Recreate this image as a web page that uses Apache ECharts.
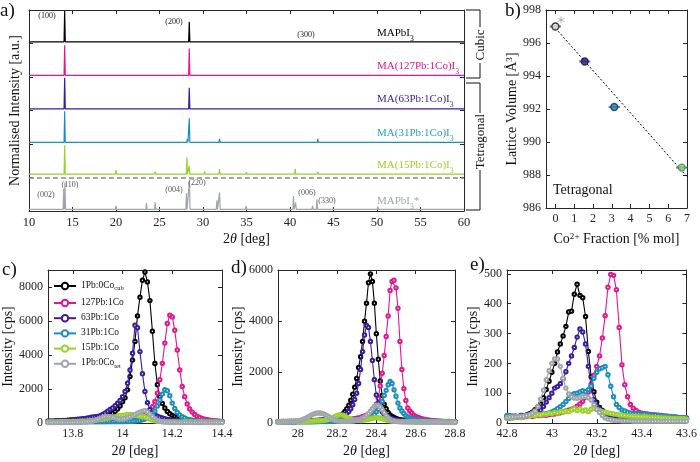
<!DOCTYPE html>
<html><head><meta charset="utf-8">
<script src="https://cdn.jsdelivr.net/npm/echarts@6/dist/echarts.min.js"></script>
<style>html,body{margin:0;padding:0;background:#fff}#chart{width:700px;height:462px}</style>
</head><body><div id="chart"></div>
<script>
// ================= DATA =================
// Panel a: XRD peaks [2theta, normalised height]
const peaksCub   = [[14.1,0.92],[20.0,0.01],[24.5,0.008],[28.42,0.6],[31.9,0.01],[40.6,0.01],[43.2,0.04],[50.2,0.01],[58.7,0.01]];
const peaks127   = [[14.1,0.9],[28.42,0.8],[31.9,0.012],[40.6,0.01],[43.2,0.05],[50.2,0.01],[58.7,0.015]];
const peaks63    = [[14.1,0.93],[20.0,0.015],[28.42,0.63],[31.9,0.015],[40.6,0.015],[43.2,0.04],[50.2,0.01],[58.7,0.01]];
const peaks31    = [[14.1,0.93],[20.0,0.03],[24.5,0.02],[28.2,0.1],[28.42,0.72],[31.9,0.1],[35.0,0.02],[40.6,0.04],[43.2,0.1],[50.2,0.02],[58.7,0.02]];
const peaks15    = [[14.1,0.86],[20.0,0.12],[23.5,0.04],[24.5,0.08],[28.15,0.5],[28.42,0.25],[30.2,0.09],[31.6,0.05],[31.9,0.15],[35.0,0.06],[40.6,0.16],[43.2,0.07],[50.2,0.05],[52.0,0.03],[58.7,0.03]];
const peaksTet   = [[13.99,0.6],[14.13,0.8],[15.0,0.05],[20.0,0.1],[23.5,0.18],[24.5,0.21],[25.0,0.04],[28.1,0.48],[28.44,0.85],[30.0,0.04],[31.0,0.05],[31.6,0.27],[31.9,0.5],[34.95,0.1],[37.8,0.03],[40.4,0.4],[40.65,0.2],[42.6,0.1],[43.1,0.3],[45.0,0.03],[47.5,0.02],[50.1,0.08],[51.9,0.04],[52.4,0.03],[54.9,0.05],[57.5,0.02],[58.7,0.03]];
const xrdTicks = [10,15,20,25,30,35,40,45,50,55,60];

// Panel b: lattice volume vs Co fraction
const bX    = [0, 1.56, 3.13, 6.72];
const bY    = [997.0, 994.88, 992.12, 988.45];
const bXErr = [0.3, 0.3, 0.3, 0.3];
const bFitX = [0, 7];
const bFitY = [996.9, 987.9];
const bStar = [0.3, 997.4];

// Panels c-e: peak profiles (intensity, cps)
const legendNames = ['1Pb:0Co_cub','127Pb:1Co','63Pb:1Co','31Pb:1Co','15Pb:1Co','1Pb:0Co_tet'];
const cStart = 13.70, cStep = 0.01;   // 71 points
const c_cub = [100,105,110,115,120,125,130,140,150,160, 170,180,190,200,210,220,235,250,265,280, 295,310,340,380,430,490,570,680,820,1000, 1250,1480,1950,2730,3700,4800,6300,7400,8400,8880, 8300,7200,5400,3500,2250,1550,1150,880,680,540, 450,390,340,290,250,210,185,165,150,135, 120,110,105,100,95,92,90,88,85,82, 80];
const c_127 = [78,78,79,80,80,81,82,83,84,85, 86,87,88,89,90,92,94,96,98,100, 102,104,106,108,110,112,114,117,120,130, 140,150,165,180,195,230,270,320,390,480, 585,750,960,1270,1760,2540,3510,4700,5850,6340, 6240,5460,4290,3120,2150,1550,1120,830,640,500, 400,320,265,220,190,165,150,135,120,108, 98];
const c_63  = [100,105,110,120,125,135,145,155,165,180, 195,210,225,240,255,275,300,325,350,370, 390,430,500,585,700,800,880,1020,1170,1320, 1550,1850,2340,3120,4100,5750,5600,4200,2900,1850, 1200,780,600,490,400,340,293,250,215,190, 170,160,150,140,130,120,112,105,100,95, 90,85,82,80,78,76,75,74,73,72, 70];
const c_31  = [60,61,62,63,64,65,66,67,68,69, 70,71,72,72,73,73,74,74,75,75, 76,76,77,77,78,78,79,79,80,80, 80,82,85,90,100,115,130,150,190,230, 290,370,470,700,1000,1350,1700,1960,1900,1600, 1170,860,620,480,370,290,230,190,160,140, 125,115,108,100,95,92,90,88,86,84, 82];
const c_15  = [60,62,64,66,68,70,72,75,78,82, 86,90,95,100,105,110,120,135,150,170, 190,215,240,265,290,310,340,370,410,440, 450,470,500,510,490,450,425,400,380,350, 300,230,170,130,105,90,80,75,70,68, 66,65,64,63,62,61,60,60,59,59, 58,58,57,57,56,56,55,55,55,54, 54];
const c_tet = [30,30,31,31,32,32,33,34,35,36, 38,40,43,47,52,60,75,95,120,160, 210,270,330,370,390,380,340,290,250,230, 240,270,310,360,420,490,570,640,700,720, 650,520,380,260,170,110,80,60,50,45, 42,40,38,37,36,35,35,34,34,33, 33,32,32,32,31,31,31,30,30,30, 30];

const dStart = 27.90, dStep = 0.01;   // 91 points
const d_cub = [55,55,56,57,58,59,60,61,62,63, 65,67,70,73,76,80,84,88,92,96, 100,105,110,115,120,125,135,150,165,180, 200,235,290,360,457,560,700,890,1130,1400, 1750,2180,2600,3200,3990,4700,5500,5850,5550,4700, 3500,2500,1650,1080,740,560,410,320,260,220, 180,150,130,115,100,90,82,75,68,65, 62,60,60,59,59,58,58,57,57,56, 56,55,55,54,54,53,53,52,52,51, 50];
const d_127 = [45,46,47,48,49,50,51,52,53,54, 55,56,57,58,59,60,61,62,63,64, 65,66,67,68,70,72,75,78,82,86, 90,95,100,106,112,120,130,142,156,170, 185,200,220,245,275,310,350,410,480,580, 740,960,1450,1950,2650,3390,4200,5200,5550,5600, 5300,4500,3200,2100,1350,880,590,470,390,310, 261,225,195,170,150,130,118,106,96,88, 82,76,71,67,64,61,59,57,55,54, 53];
const d_63  = [50,51,52,53,54,55,56,57,58,60, 62,64,66,68,70,73,76,80,84,90, 96,103,110,120,128,136,145,155,168,182, 200,225,255,290,330,380,450,560,720,920, 1170,1550,2100,2800,3450,3830,3750,3200,2450,1700, 1100,780,580,430,340,275,230,195,165,140, 122,110,100,92,85,79,74,70,67,65, 63,62,61,60,59,58,57,56,55,55, 54,54,53,53,52,52,51,51,50,50, 50];
const d_31  = [40,40,41,41,42,42,43,43,44,44, 45,45,46,46,47,48,49,50,51,52, 53,54,55,57,59,61,63,66,69,72, 76,80,85,90,95,100,106,112,120,128, 137,147,158,170,185,200,222,245,270,330, 440,540,652,850,1080,1280,1500,1630,1550,1300, 1050,780,587,470,370,290,240,195,165,150, 135,120,108,98,90,84,78,73,69,66, 63,60,58,56,55,54,53,52,51,50, 50];
const d_15  = [40,42,44,46,48,50,52,54,56,58, 60,62,64,66,68,70,72,75,78,82, 86,90,96,104,115,130,150,180,215,255, 290,315,320,305,270,225,180,145,120,105, 98,95,98,105,115,130,150,170,190,205, 210,205,190,170,145,120,100,85,75,68, 62,58,55,52,50,48,46,45,44,43, 42,41,40,40,39,39,38,38,37,37, 36,36,35,35,35,34,34,34,33,33, 33];
const d_tet = [44,45,46,47,48,50,52,55,60,68, 80,95,115,145,180,225,270,315,350,375, 390,392,385,365,330,285,235,185,140,105, 85,75,70,67,65,64,66,70,78,90, 105,125,150,185,230,290,370,460,560,650, 700,690,620,520,400,290,200,140,100,78, 65,58,53,50,48,46,45,44,43,42, 42,41,41,40,40,40,39,39,39,38, 38,38,37,37,37,36,36,36,35,35, 35];

const eStart = 42.80, eStep = 0.0125; // 65 points
const e_cub = [22,24,21,23,22,25,24,27,31,36, 45,55,64,85,112,140,170,200,238,265, 292,324,372,375,432,465,428,420,357,240, 155,105,70,52,42,33,30,26,23,22, 21,22,20,21,19,20,19,20,19,18, 19,18,18,17,18,17,17,18,16,17, 17,16,16,15,15];
const e_127 = [18,19,18,20,19,21,20,22,23,22, 24,25,25,27,26,28,29,30,32,34, 37,40,43,46,50,56,64,73,86,104, 130,160,190,225,285,360,455,498,495,447, 320,195,128,88,62,50,42,36,33,31, 30,29,28,27,26,25,24,23,22,21, 20,19,18,17,17];
const e_63  = [18,17,20,19,21,22,24,25,27,29, 31,37,43,55,70,85,100,117,122,132, 148,172,200,225,253,288,315,305,265,190, 120,78,58,47,40,35,31,29,27,25, 24,23,22,22,21,21,20,20,20,19, 19,19,19,19,18,18,18,17,17,16, 16,16,15,15,15];
const e_31  = [25,22,24,23,21,24,23,25,24,27, 26,28,29,30,31,34,37,42,48,55, 62,72,82,94,98,100,104,108,105,112, 124,150,170,182,185,190,162,123,88,62, 52,44,40,36,34,32,31,30,29,30, 28,27,26,27,25,24,22,23,21,20, 20,19,18,18,17];
const e_15  = [15,18,16,19,20,18,22,24,22,26, 25,28,27,30,29,33,31,35,33,38, 36,40,38,44,48,42,47,40,44,38, 46,50,45,42,38,36,34,32,30,29, 27,26,25,24,23,22,22,21,21,20, 20,19,19,18,18,17,17,16,16,15, 15,14,14,14,13];
const e_tet = [18,20,20,21,22,22,23,25,28,33, 40,55,80,110,145,175,200,215,215,190, 150,117,97,88,84,83,85,88,89,85, 77,62,46,35,25,17,13,11,9,8, 8,7,7,7,7,6,6,6,6,6, 6,6,6,6,6,6,6,6,6,6, 6,6,6,6,6];

// ================= STYLE =================
const FONT = "'Liberation Serif', 'DejaVu Serif', serif";
const AX = '#262626';
const COLS = ['#000000', '#e6158f', '#3a1d9e', '#1c8dbb', '#9ad12b', '#9ea6aa'];
const bFill = ['#d9dcdc', '#2a1a8c', '#1d7fb3', '#93cf35'];
const bEdge = ['#111111', '#161040', '#123050', '#1c8dbb'];

const chart = echarts.init(document.getElementById('chart'), null, {renderer: 'canvas'});

function gridXY(start, step, vals) { return vals.map((v, i) => [+(start + step * i).toFixed(5), v]); }
const PW = 0.07;
function trace(peaks, off) {
  const pts = [[10, off]];
  peaks.forEach(([p, h]) => { pts.push([p - PW, off], [p, off + h], [p + PW, off]); });
  pts.push([60, off]);
  return pts;
}

function nameStyle(fs) {
  return { fontFamily: FONT, fontSize: fs, color: '#111',
    rich: { i: {fontFamily: FONT, fontSize: fs, fontStyle: 'italic', color: '#111'},
            sup: {fontFamily: FONT, fontSize: fs * 0.65, verticalAlign: 'top', lineHeight: 10, color: '#111'} } };
}
function axisPair(dim, g, min, max, ticks, o) {
  o = o || {};
  const mk = (pos, main) => ({
    type: 'value', gridIndex: g, min, max, position: pos,
    splitLine: {show: false},
    axisLine: {show: true, onZero: false, lineStyle: {color: AX, width: 1}},
    axisTick: {show: true, inside: true, length: 4, customValues: ticks, lineStyle: {color: AX, width: 1}},
    axisLabel: main && o.labels !== false
      ? {show: true, customValues: ticks, color: '#222', fontFamily: FONT, fontSize: o.fs || 12, margin: o.margin || 5,
         formatter: v => String(+v.toFixed(4))}
      : {show: false},
    name: main ? (o.name || '') : '',
    nameLocation: 'middle', nameGap: o.nameGap || 20,
    nameTextStyle: nameStyle(o.nfs || 14)
  });
  return dim === 'x' ? [mk('bottom', true), mk('top', false)] : [mk('left', true), mk('right', false)];
}

const grids = [
  {left: 23, top: 10, width: 441, height: 201},
  {left: 546, top: 10, width: 141, height: 198},
  {left: 48, top: 270, width: 174, height: 153},
  {left: 278, top: 270, width: 177, height: 153},
  {left: 507, top: 270, width: 183, height: 153}
];
const xAxes = [].concat(
  axisPair('x', 0, 10, 60, xrdTicks, {name: '2{i|θ} [deg]', nameGap: 21, fs: 12.5}),
  axisPair('x', 1, -0.5, 7, [0,1,2,3,4,5,6,7], {name: 'Co{sup|2+} Fraction [% mol]', nameGap: 24, fs: 12}),
  axisPair('x', 2, 13.7, 14.4, [13.8,14,14.2,14.4], {name: '2{i|θ} [deg]', nameGap: 21, fs: 12}),
  axisPair('x', 3, 27.9, 28.8, [28,28.2,28.4,28.6,28.8], {name: '2{i|θ} [deg]', nameGap: 21, fs: 12}),
  axisPair('x', 4, 42.8, 43.6, [42.8,43,43.2,43.4,43.6], {name: '2{i|θ} [deg]', nameGap: 21, fs: 12})
);
const yAxes = [].concat(
  axisPair('y', 0, 0, 6, [0,1,2,3,4,5,6], {labels: false, name: 'Normalised Intensity [a.u.]', nameGap: 7}),
  axisPair('y', 1, 986, 998, [986,988,990,992,994,996,998], {name: 'Lattice Volume [Å{sup|3}]', nameGap: 26, fs: 12}),
  axisPair('y', 2, 0, 9000, [0,2000,4000,6000,8000], {name: 'Intensity [cps]', nameGap: 31, fs: 12}),
  axisPair('y', 3, 0, 6000, [0,2000,4000,6000], {name: 'Intensity [cps]', nameGap: 29, fs: 12}),
  axisPair('y', 4, 0, 513, [0,100,200,300,400,500], {name: 'Intensity [cps]', nameGap: 23, fs: 12})
);

const series = [];
// Panel a
const xrdSets = [peaksCub, peaks127, peaks63, peaks31, peaks15, peaksTet];
const xrdOffsets = [5.05, 4.05, 3.05, 2.05, 1.1, 0.05];
xrdSets.forEach((pk, k) => {
  const s = {type: 'line', name: 'xrd' + k, xAxisIndex: 0, yAxisIndex: 0, data: trace(pk, xrdOffsets[k]),
    showSymbol: false, symbol: 'none', lineStyle: {color: COLS[k], width: 1.2}, itemStyle: {color: COLS[k]}, z: 2};
  if (k === 5) {
    s.markLine = {silent: true, symbol: 'none', label: {show: false},
      lineStyle: {color: '#8a8a8a', type: [5, 3], width: 1.5}, data: [{yAxis: 1.0}]};
  }
  series.push(s);
});
// Panel b
series.push({type: 'line', name: 'fit', xAxisIndex: 2, yAxisIndex: 2,
  data: bFitX.map((x, i) => [x, bFitY[i]]), symbol: 'none', lineStyle: {color: '#000', width: 1, type: [2, 2]}, z: 1});
series.push({type: 'custom', name: 'err', xAxisIndex: 2, yAxisIndex: 2,
  data: bX.map((x, i) => [x, bY[i], bXErr[i]]), encode: {x: 0, y: 1},
  renderItem: (params, api) => {
    const x = api.value(0), y = api.value(1), e = api.value(2);
    const p1 = api.coord([x - e, y]), p2 = api.coord([x + e, y]);
    return {type: 'line', shape: {x1: p1[0], y1: p1[1], x2: p2[0], y2: p2[1]}, style: {stroke: '#7d7d7d', lineWidth: 2}};
  }, z: 2});
series.push({type: 'scatter', name: 'vol', xAxisIndex: 2, yAxisIndex: 2, symbolSize: 7,
  data: bX.map((x, i) => ({value: [x, bY[i]], itemStyle: {color: bFill[i], borderColor: bEdge[i], borderWidth: 1.3}})), z: 3});
series.push({type: 'scatter', name: 'star', xAxisIndex: 2, yAxisIndex: 2, symbolSize: 7,
  symbol: 'path://M0,-5L0,5M-4.33,-2.5L4.33,2.5M-4.33,2.5L4.33,-2.5',
  data: [bStar], itemStyle: {color: 'none', borderColor: '#9ea6aa', borderWidth: 1}, z: 3});
// Panels c-e
const cSets = [c_cub, c_127, c_63, c_31, c_15, c_tet];
const dSets = [d_cub, d_127, d_63, d_31, d_15, d_tet];
const eSets = [e_cub, e_127, e_63, e_31, e_15, e_tet];
[[cSets, cStart, cStep, 4], [dSets, dStart, dStep, 6], [eSets, eStart, eStep, 8]].forEach(([sets, st, sp, ax]) => {
  sets.forEach((vals, k) => {
    series.push({type: 'line', name: legendNames[k], xAxisIndex: ax, yAxisIndex: ax,
      data: gridXY(st, sp, vals), symbol: 'emptyCircle', symbolSize: 3.4, showAllSymbol: true,
      lineStyle: {color: COLS[k], width: 1.1}, itemStyle: {color: COLS[k], borderColor: COLS[k], borderWidth: 0.9},
      z: 2 + k});
  });
});

// ================= ANNOTATIONS =================
const g = [];
function T(x, y, text, o) {
  o = o || {};
  const el = {type: 'text', x, y, rotation: o.rot || 0, z: 10,
    style: {text, fill: o.color || '#111', font: `${o.style || ''} ${o.fs || 12}px ${FONT}`,
      textAlign: o.align || 'left', textVerticalAlign: o.va || 'middle', rich: o.rich}};
  g.push(el);
}
function L(x1, y1, x2, y2) {
  g.push({type: 'line', z: 10, shape: {x1, y1, x2, y2}, style: {stroke: '#111', lineWidth: 1}});
}
const subRich = (fs, col) => ({
  b: {fontFamily: FONT, fontSize: fs, fill: col, color: col, lineHeight: fs + 4, verticalAlign: 'top'},
  s: {fontFamily: FONT, fontSize: fs * 0.7, fill: col, color: col, verticalAlign: 'bottom', lineHeight: fs * 0.7},
  sp: {fontFamily: FONT, fontSize: fs * 1.0, fill: col, color: col, verticalAlign: 'top', lineHeight: fs}
});
// panel labels
T(0, 11, 'a)', {fs: 19}); T(505, 11, 'b)', {fs: 19});
T(2, 270, 'c)', {fs: 19}); T(231, 268, 'd)', {fs: 19}); T(470, 265, 'e)', {fs: 19});
// hkl labels
const hk = {fs: 8, align: 'center', color: '#222'};
T(47, 16, '(100)', hk); T(174, 22, '(200)', hk); T(306, 35, '(300)', hk);
const hk2 = {fs: 8, align: 'center', color: '#555'};
T(46, 195, '(002)', hk2); T(70, 185, '(110)', hk2); T(174, 190, '(004)', hk2);
T(197, 183, '(220)', hk2); T(307, 193, '(006)', hk2); T(327, 201, '(330)', hk2);
// sample labels
const sampleLabels = [
  ['{b|MAPbI}{s|3}', 35, COLS[0]],
  ['{b|MA(127Pb:1Co)I}{s|3}', 68, COLS[1]],
  ['{b|MA(63Pb:1Co)I}{s|3}', 101, COLS[2]],
  ['{b|MA(31Pb:1Co)I}{s|3}', 135, '#2a9fb3'],
  ['{b|MA(15Pb:1Co)I}{s|3}', 167, COLS[4]],
  ['{b|MAPbI}{s|3}{sp|*}', 203, '#9ea6aa']
];
sampleLabels.forEach(([t, y, c]) => T(377, y, t, {fs: 11, color: c, rich: subRich(11, c)}));
// brackets
L(466, 10, 480, 10); L(480, 10, 480, 27); L(480, 63, 480, 78); L(466, 78, 480, 78);
T(481, 45, 'Cubic', {fs: 13, align: 'center', rot: Math.PI / 2});
L(466, 83, 480, 83); L(480, 83, 480, 113); L(480, 170, 480, 210); L(466, 210, 480, 210);
T(481, 141.5, 'Tetragonal', {fs: 13, align: 'center', rot: Math.PI / 2});
// panel b text
T(553, 190, 'Tetragonal', {fs: 14});

const option = {
  animation: false,
  backgroundColor: '#fff',
  grid: grids,
  xAxis: xAxes,
  yAxis: yAxes,
  legend: {
    data: legendNames, orient: 'vertical', left: 53, top: 280, itemWidth: 22, itemHeight: 8, itemGap: 5,
    padding: 0, selectedMode: false,
    formatter: n => { const [a, b] = n.split('_'); return b ? `{t|${a}}{s|${b}}` : `{t|${a}}`; },
    textStyle: {fontFamily: FONT, fontSize: 9.5, color: '#111',
      rich: {t: {fontFamily: FONT, fontSize: 9.5, color: '#111', lineHeight: 12, verticalAlign: 'top'},
             s: {fontFamily: FONT, fontSize: 6.5, color: '#111', verticalAlign: 'bottom', lineHeight: 6}}}
  },
  series,
  graphic: g
};
chart.setOption(option);
</script>
</body></html>
